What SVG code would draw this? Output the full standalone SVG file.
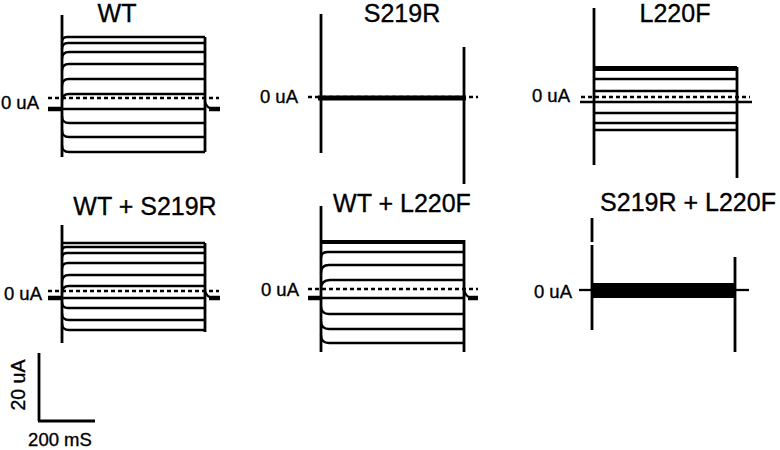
<svg xmlns="http://www.w3.org/2000/svg" width="780" height="450" viewBox="0 0 780 450">
<style>
.t{font-family:"Liberation Sans",Arial,sans-serif;fill:#000;stroke:#000;stroke-width:0.35}
.title{font-size:25px;text-anchor:middle}
.lab{font-size:18.5px;text-anchor:end}
.ax{stroke:#000;stroke-width:2.8;fill:none}
.tr{stroke:#000;stroke-width:2.3;fill:none}
.thk{stroke:#000;stroke-width:4.5;fill:none}
.dash{stroke:#000;stroke-width:2.6;stroke-dasharray:4 3;fill:none}
</style>
<rect width="780" height="450" fill="#fff"/>

<g id="panel-wt">
<text class="t title" x="117" y="22">WT</text>
<text class="t lab" x="39" y="109">0 uA</text>
<line class="ax" x1="62" y1="15" x2="62" y2="157"/>
<line class="ax" x1="205" y1="37" x2="205" y2="152"/>
<path class="tr" d="M62,42 Q62,37 67,37 H205 M62,49 Q62,43 68,43 H205 M62,59 Q62,52 69,52 H205 M62,71 Q62,64 69,64 H205 M62,86 Q62,79 69,79 H205 M62,101 Q62,94 69,94 H205 M62,109 H205 M62,116 Q62,123 69,123 H205 M62,130 Q62,137 69,137 H205 M62,145 Q62,152 69,152 H205"/>
<line class="dash" x1="48" y1="98" x2="219" y2="98"/>
<line class="thk" x1="48" y1="109" x2="62" y2="109"/>
<path class="tr" d="M205,102 Q207,108 212,109"/>
<line class="thk" x1="209" y1="109" x2="220" y2="109"/>
</g>

<g id="panel-s219r">
<text class="t title" x="402" y="22">S219R</text>
<text class="t lab" x="298" y="103">0 uA</text>
<line class="ax" x1="321" y1="14" x2="321" y2="153"/>
<line class="ax" x1="464" y1="47" x2="464" y2="184"/>
<line class="dash" x1="308" y1="97" x2="478" y2="97"/>
<line class="thk" x1="318" y1="98" x2="466" y2="98" style="stroke-width:5"/>
</g>

<g id="panel-l220f">
<text class="t title" x="675" y="22">L220F</text>
<text class="t lab" x="570" y="102">0 uA</text>
<line class="ax" x1="594" y1="8" x2="594" y2="165"/>
<line class="ax" x1="737" y1="67" x2="737" y2="178"/>
<line class="thk" x1="594" y1="68.5" x2="737" y2="68.5" style="stroke-width:5"/>
<path class="tr" d="M594,79 H737 M594,91 H737 M594,113 H737 M594,123 H737 M594,130 H737"/>
<line class="tr" x1="580" y1="102" x2="752" y2="102" style="stroke-width:2.6"/>
<line class="dash" x1="581" y1="97" x2="750" y2="97"/>
</g>

<g id="panel-wt-s219r">
<text class="t title" x="145" y="215">WT + S219R</text>
<text class="t lab" x="42" y="300">0 uA</text>
<line class="ax" x1="62" y1="225" x2="62" y2="343"/>
<line class="ax" x1="205" y1="243" x2="205" y2="332"/>
<path class="tr" d="M62,243 H205 M62,251 Q62,247 66,247 H205 M62,258 Q62,253 67,253 H205 M62,269 Q62,263 68,263 H205 M62,282 Q62,275 69,275 H205 M62,293 Q62,286 69,286 H205 M62,298 H205 M62,302 Q62,308 68,308 H205 M62,313 Q62,320 69,320 H205 M62,323 Q62,330 69,330 H205"/>
<line class="dash" x1="48" y1="291" x2="219" y2="291"/>
<line class="thk" x1="48" y1="298" x2="62" y2="298"/>
<path class="tr" d="M205,291 Q207,297 212,298"/>
<line class="thk" x1="209" y1="298" x2="220" y2="298"/>
</g>

<g id="panel-wt-l220f">
<text class="t title" x="402" y="212">WT + L220F</text>
<text class="t lab" x="299" y="296">0 uA</text>
<line class="ax" x1="321" y1="206" x2="321" y2="352"/>
<line class="ax" x1="464" y1="240" x2="464" y2="352"/>
<line class="tr" x1="321" y1="242" x2="464" y2="242" style="stroke-width:3.8"/>
<path class="tr" d="M321,258 Q321,252 328,252 H464 M321,273 Q321,265 329,265 H464 M321,289 Q321,280 330,280 H464 M321,298 H464 M321,306 Q321,314 329,314 H464 M321,321 Q321,329 329,329 H464 M321,335 Q321,343 329,343 H464"/>
<line class="dash" x1="308" y1="289" x2="478" y2="289"/>
<line class="thk" x1="308" y1="298" x2="321" y2="298"/>
<path class="tr" d="M464,290 Q466,297 471,298"/>
<line class="thk" x1="468" y1="298" x2="478" y2="298"/>
</g>

<g id="panel-s219r-l220f">
<text class="t title" x="688" y="211">S219R + L220F</text>
<text class="t lab" x="572" y="298">0 uA</text>
<line class="ax" x1="592" y1="218" x2="592" y2="242"/>
<line class="ax" x1="592" y1="245" x2="592" y2="330"/>
<line class="ax" x1="735" y1="257" x2="735" y2="352"/>
<rect x="592" y="283" width="143" height="15" fill="#000"/>
<line class="tr" x1="579" y1="290" x2="592" y2="290"/>
<line class="tr" x1="735" y1="290" x2="749" y2="290"/>
</g>

<g id="scale-bar">
<line class="ax" x1="39" y1="353" x2="39" y2="421"/>
<line class="ax" x1="38" y1="421" x2="95" y2="421"/>
<text class="t" x="0" y="0" transform="translate(25,385) rotate(-90)" style="font-size:19.5px;text-anchor:middle">20 uA</text>
<text class="t" x="60" y="446" style="font-size:18.5px;text-anchor:middle">200 mS</text>
</g>
</svg>
